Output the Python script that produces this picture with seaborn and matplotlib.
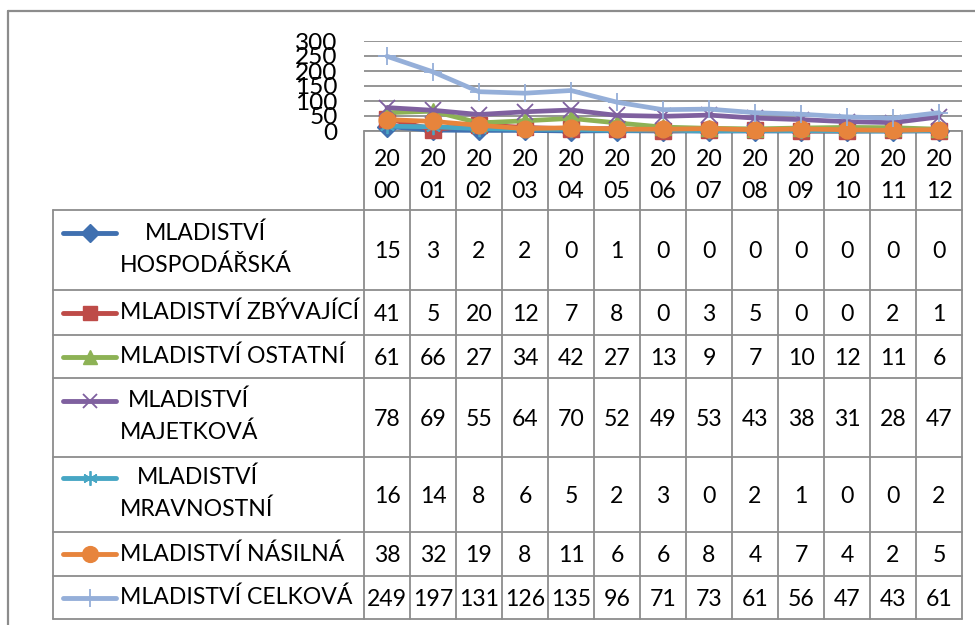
import numpy as np
import pandas as pd
import seaborn as sns
import matplotlib.pyplot as plt

#%% Data
years = list(range(2000, 2013))
series_names = ['MLADISTVÍ HOSPODÁŘSKÁ', 'MLADISTVÍ ZBÝVAJÍCÍ', 'MLADISTVÍ OSTATNÍ',
                'MLADISTVÍ MAJETKOVÁ', 'MLADISTVÍ MRAVNOSTNÍ', 'MLADISTVÍ NÁSILNÁ',
                'MLADISTVÍ CELKOVÁ']
hospodarska = [15, 3, 2, 2, 0, 1, 0, 0, 0, 0, 0, 0, 0]
zbyvajici = [41, 5, 20, 12, 7, 8, 0, 3, 5, 0, 0, 2, 1]
ostatni = [61, 66, 27, 34, 42, 27, 13, 9, 7, 10, 12, 11, 6]
majetkova = [78, 69, 55, 64, 70, 52, 49, 53, 43, 38, 31, 28, 47]
mravnostni = [16, 14, 8, 6, 5, 2, 3, 0, 2, 1, 0, 0, 2]
nasilna = [38, 32, 19, 8, 11, 6, 6, 8, 4, 7, 4, 2, 5]
celkova = [249, 197, 131, 126, 135, 96, 71, 73, 61, 56, 47, 43, 61]
y_ticks = [0, 50, 100, 150, 200, 250, 300]

values = [hospodarska, zbyvajici, ostatni, majetkova, mravnostni, nasilna, celkova]
df = (pd.DataFrame({'Rok': years, **dict(zip(series_names, values))})
      .melt(id_vars='Rok', var_name='Kategorie', value_name='Pocet'))

#%% Styles
colors = ['#4070B0', '#BE4B48', '#8DB255', '#7F609F', '#47A6C4', '#E7843C', '#95AFD9']
markers = ['D', 's', '^', 'x', (6, 2, 0), 'o', '+']
msizes = [10, 11, 11, 11, 11, 12, 13]
filled = [True, True, True, False, False, True, False]
wrap = [True, False, False, True, True, False, False]
indent = [25, 0, 0, 8, 17, 0, 0]

sns.set_theme(style='white')
plt.rcParams['font.family'] = ['Lato', 'DejaVu Sans']
FS = 16.6
GRAY = '#8c8c8c'

W, H = 975, 625
fig = plt.figure(figsize=(W / 100, H / 100), dpi=100)

# overlay in pixel coordinates for the data table
tab = fig.add_axes([0, 0, 1, 1])
tab.set_xlim(0, W)
tab.set_ylim(H, 0)
tab.axis('off')

col_left, col_w = 364, 46
leg_left = 53
head_top, head_bot = 131, 210
row_edges = [210, 290, 335, 378, 457, 532, 576, 619]
ncol = len(years)
right = col_left + col_w * ncol

# outer frame
tab.plot([8, W], [11, 11], color=GRAY, lw=1.6)
tab.plot([8, 8], [11, H], color=GRAY, lw=1.6)

# grid lines of the table
tab.plot([col_left, right], [head_top, head_top], color=GRAY, lw=1.3)
for y in row_edges:
    tab.plot([leg_left, right], [y, y], color=GRAY, lw=1.3)
tab.plot([leg_left, leg_left], [head_bot, row_edges[-1]], color=GRAY, lw=1.3)
for k in range(ncol + 1):
    x = col_left + col_w * k
    tab.plot([x, x], [head_top, row_edges[-1]], color=GRAY, lw=1.3)

# header with years split in two lines
for j, yr in enumerate(years):
    xc = col_left + col_w * (j + 0.5)
    s = str(yr)
    tab.text(xc, 160, s[:2], ha='center', va='center', fontsize=FS, color='black')
    tab.text(xc, 191, s[2:], ha='center', va='center', fontsize=FS, color='black')

# rows
for i, name in enumerate(series_names):
    top, bot = row_edges[i], row_edges[i + 1]
    yc = (top + bot) / 2
    first, second = name.split(' ', 1)
    if wrap[i]:
        y_key = yc - 17
        tab.text(120 + indent[i], y_key, first, ha='left', va='center', fontsize=FS, color='black')
        tab.text(120, yc + 15, second, ha='left', va='center', fontsize=FS, color='black')
    else:
        y_key = yc
        tab.text(120, yc, name, ha='left', va='center', fontsize=FS, color='black')
    tab.plot([63, 116], [y_key, y_key], color=colors[i], lw=3.5, solid_capstyle='round')
    tab.plot([89.5], [y_key], marker=markers[i], ms=msizes[i] * 0.95, color=colors[i],
             mec=colors[i], mew=1.3 if not filled[i] else 1)
    for j, v in enumerate(values[i]):
        xc = col_left + col_w * (j + 0.5)
        tab.text(xc, yc + 2, str(v), ha='center', va='center', fontsize=FS, color='black')

#%% Line chart
ax = fig.add_axes([col_left / W, 1 - head_top / H, col_w * ncol / W, (head_top - 41) / H])
ax.set_facecolor('none')
for i, name in enumerate(series_names):
    sns.lineplot(data=df[df.Kategorie == name], x='Rok', y='Pocet', ax=ax,
                 color=colors[i], marker=markers[i], ms=msizes[i], lw=3.4,
                 mec=colors[i], mew=1.3 if not filled[i] else 1,
                 solid_capstyle='round', solid_joinstyle='round',
                 clip_on=False, zorder=3 + i, legend=False)
ax.set_xlim(years[0] - 0.5, years[-1] + 0.5)
ax.set_ylim(0, 300)
ax.set_yticks(y_ticks)
ax.set_yticklabels([str(t) for t in y_ticks], fontsize=FS + 1, color='black')
ax.set_xticks([])
ax.tick_params(axis='y', length=0, pad=19)
ax.yaxis.grid(True, color=GRAY, lw=1.3)
ax.set_axisbelow(True)
for sp in ax.spines.values():
    sp.set_visible(False)
ax.set_xlabel('')
ax.set_ylabel('')

fig.savefig('out.png', dpi=100)
